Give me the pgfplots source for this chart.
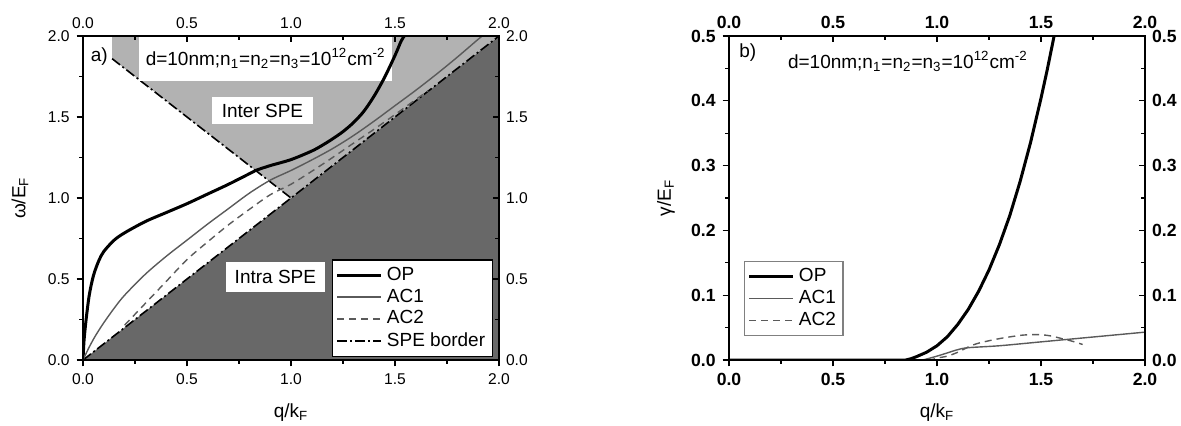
\documentclass[border=0pt]{standalone}
\usepackage{fontspec}
\setmainfont{Liberation Sans}
\usepackage{pgfplots}
\pgfplotsset{compat=1.18}
\definecolor{darkspe}{RGB}{104,104,104}
\definecolor{lightspe}{RGB}{178,178,178}
\definecolor{acgray}{RGB}{90,90,90}
\newcommand{\txt}{\fontsize{9.5}{11}\selectfont}
\pgfplotsset{
  panel/.style={
    scale only axis, width=208pt, height=162pt,
    xmin=0, xmax=2, xtick={0,0.5,1,1.5,2}, minor x tick num=1, minor y tick num=1,
    /pgf/number format/fixed, /pgf/number format/fixed zerofill,
    /pgf/number format/precision=1, /pgf/number format/assume math mode=true,
    axis line style={line width=0.8pt},
    major tick length=3.2pt, minor tick length=1.8pt,
    every tick/.style={black, line width=0.6pt},
    tick label style={font=\fontsize{7.8}{9}\selectfont},
    anchor=south west,
  },
  lower/.style={xtick pos=left, ytick pos=left, tick align=outside, axis on top,
    label style={font=\txt},
    xlabel style={at={(axis description cs:0.5,-0.1636)}, anchor=center},
    ylabel style={at={(axis description cs:-0.1514,0.5)}, anchor=center},
    legend cell align=left,
    legend image code/.code={\draw[##1] (0cm,0cm) -- (0.78cm,0cm);},
  },
  upper/.style={xtick pos=right, ytick pos=right, xticklabel pos=right, yticklabel pos=right,
    tick align=inside},
}
\begin{document}
\begin{tikzpicture}
\path[use as bounding box] (0,0) rectangle (590.5pt,212.5pt);
% ---------- panel a ----------
\begin{axis}[panel, lower, at={(41.5pt,32.5pt)}, ymin=0, ymax=2, ytick={0,0.5,1,1.5,2},
  xlabel={q/k\textsubscript{F}}, ylabel={ω/E\textsubscript{F}},
  legend style={at={(0.985,0.0095)}, anchor=south east, draw=black, line width=0.6pt,
    font=\txt, inner sep=1.5pt, row sep=-1.2pt}]
\addplot[fill=darkspe, draw=none, forget plot] coordinates {(0,0) (2,2) (2,0)} -- cycle;
\addplot[fill=lightspe, draw=none, forget plot] coordinates {(0.14,2) (0.14,1.86) (1,1) (2,2)} -- cycle;
\addplot[black, line width=0.8pt, dash pattern=on 5pt off 1.5pt on 1pt off 1.5pt, forget plot] coordinates {(0,0) (2,2)};
\addplot[black, line width=0.8pt, dash pattern=on 5pt off 1.5pt on 1pt off 1.5pt, forget plot] coordinates {(0.14,1.86) (1,1)};
\fill[white] (axis cs:0.27,1.722) rectangle (axis cs:1.486,2.0);
\fill[white] (axis cs:0.62,1.457) rectangle (axis cs:1.106,1.623);
\fill[white] (axis cs:0.688,0.42) rectangle (axis cs:1.163,0.605);
\node[font=\txt] at (axis cs:0.878,1.861) {d=10nm;n\textsubscript{1}=n\textsubscript{2}=n\textsubscript{3}=10\textsuperscript{12}cm\textsuperscript{-2}};
\node[font=\txt] at (axis cs:0.863,1.54) {Inter SPE};
\node[font=\txt] at (axis cs:0.925,0.5125) {Intra SPE};
\node[font=\txt] at (axis cs:0.078,1.87) {a)};
\addplot[black, line width=1.5pt, smooth] coordinates {(0,0) (0.005,0.12) (0.015,0.25) (0.03,0.4) (0.05,0.52) (0.075,0.61) (0.1,0.67) (0.15,0.74) (0.2,0.785) (0.3,0.855) (0.4,0.91) (0.5,0.965) (0.6,1.025) (0.7,1.085) (0.8,1.15) (0.83,1.17) (0.9,1.2) (1.0,1.237) (1.1,1.29) (1.15,1.325) (1.2,1.365) (1.25,1.41) (1.3,1.465) (1.35,1.535) (1.4,1.63) (1.45,1.745) (1.5,1.88) (1.53,1.97) (1.545,2.0)};
\addplot[acgray, line width=0.7pt, smooth] coordinates {(0,0) (0.03,0.08) (0.06,0.15) (0.1,0.23) (0.15,0.32) (0.2,0.4) (0.3,0.53) (0.4,0.64) (0.5,0.74) (0.6,0.84) (0.7,0.935) (0.8,1.03) (0.9,1.11) (1.0,1.17) (1.1,1.235) (1.2,1.305) (1.3,1.385) (1.4,1.475) (1.5,1.57) (1.6,1.665) (1.7,1.765) (1.8,1.87) (1.9,1.98) (1.92,2.0)};
\addplot[acgray, line width=0.7pt, dash pattern=on 3.5pt off 2.5pt, smooth] coordinates {(0.2,0.215) (0.3,0.35) (0.4,0.485) (0.5,0.62) (0.6,0.73) (0.7,0.835) (0.8,0.93) (0.9,1.02) (1.0,1.085) (1.1,1.165) (1.2,1.25) (1.3,1.338) (1.4,1.425) (1.5,1.515) (1.6,1.608) (1.66,1.662)};
\addlegendimage{black, line width=0.8pt, dash pattern=on 5pt off 1.5pt on 1pt off 1.5pt}
\legend{OP, AC1, AC2, SPE border}
\end{axis}
\begin{axis}[panel, upper, at={(41.5pt,32.5pt)}, ymin=0, ymax=2, ytick={0,0.5,1,1.5,2}]
\addplot[draw=none] coordinates {(0,0)};
\end{axis}
% ---------- panel b ----------
\begin{axis}[panel, lower, at={(364.5pt,32.5pt)}, ymin=0, ymax=0.5, ytick={0,0.1,0.2,0.3,0.4,0.5},
  tick label style={font=\fontsize{8.8}{10}\selectfont\bfseries},
  xlabel={q/k\textsubscript{F}}, ylabel={γ/E\textsubscript{F}},
  legend style={at={(0.036,0.074)}, anchor=south west, draw=gray, line width=0.6pt,
    font=\txt, inner sep=1.5pt, row sep=-1.2pt}]
\node[font=\txt] at (axis cs:0.09,0.475) {b)};
\node[font=\txt] at (axis cs:0.86,0.461) {d=10nm;n\textsubscript{1}=n\textsubscript{2}=n\textsubscript{3}=10\textsuperscript{12}cm\textsuperscript{-2}};
\addplot[black, line width=1.5pt] coordinates {(0,0) (0.5,0) (0.8,0) (0.85,0) (0.875,0.002) (0.9,0.005) (0.95,0.012) (1.0,0.022) (1.05,0.036) (1.1,0.055) (1.15,0.078) (1.2,0.106) (1.25,0.139) (1.3,0.178) (1.35,0.223) (1.4,0.276) (1.45,0.336) (1.5,0.404) (1.53,0.448) (1.563,0.5)};
\addplot[acgray, line width=0.7pt, smooth] coordinates {(0,0) (0.5,0) (0.9,0) (0.93,0) (1.0,0.006) (1.05,0.011) (1.1,0.016) (1.15,0.019) (1.3,0.022) (1.5,0.028) (1.7,0.034) (1.9,0.04) (2.0,0.043)};
\addplot[acgray, line width=0.7pt, dash pattern=on 3.5pt off 2.5pt, smooth] coordinates {(0,0) (0.5,0) (0.95,0) (0.97,0) (1.0,0.003) (1.05,0.006) (1.1,0.012) (1.15,0.02) (1.2,0.026) (1.3,0.033) (1.4,0.038) (1.45,0.039) (1.5,0.039) (1.55,0.037) (1.6,0.033) (1.65,0.029) (1.7,0.024)};
\legend{OP, AC1, AC2}
\end{axis}
\begin{axis}[panel, upper, at={(364.5pt,32.5pt)}, ymin=0, ymax=0.5, ytick={0,0.1,0.2,0.3,0.4,0.5},
  tick label style={font=\fontsize{8.8}{10}\selectfont\bfseries}]
\addplot[draw=none] coordinates {(0,0)};
\end{axis}
\end{tikzpicture}
\end{document}
